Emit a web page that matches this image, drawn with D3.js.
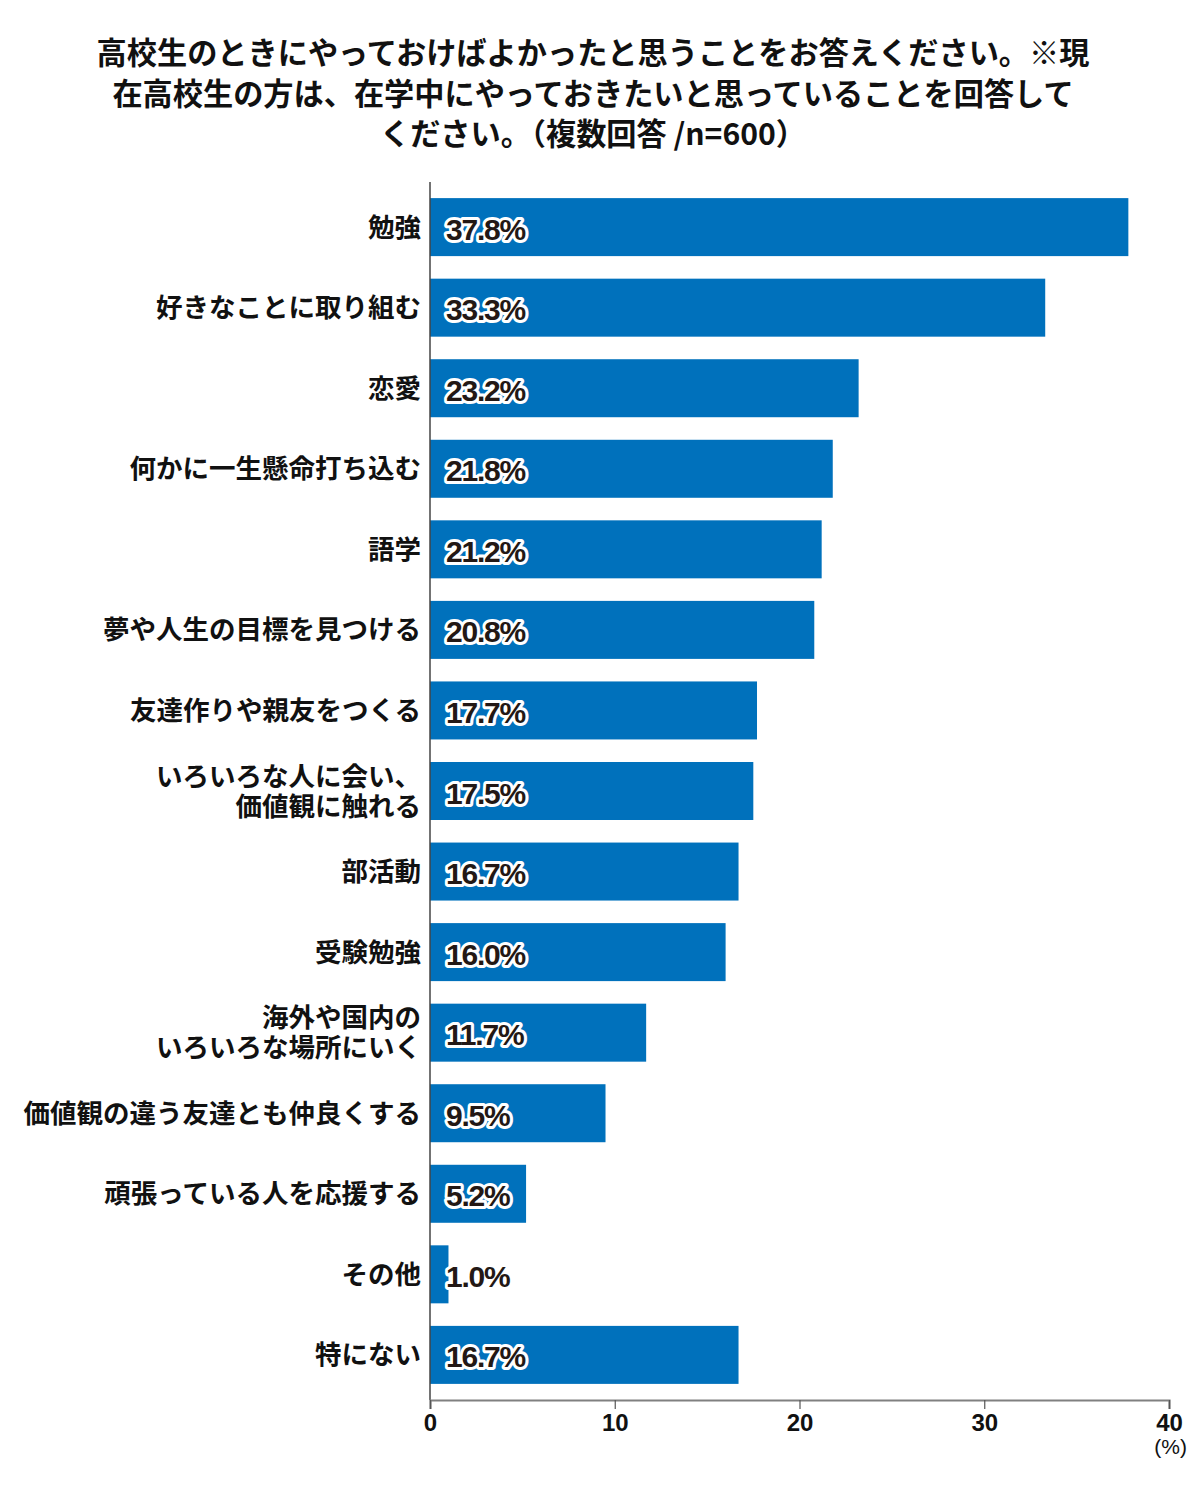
<!DOCTYPE html>
<html><head><meta charset="utf-8">
<script src="https://cdn.jsdelivr.net/npm/d3@7"></script>
<style>
body{margin:0;background:#fff;}
svg{display:block;}
</style></head>
<body>
<svg id="chart" width="1200" height="1494"></svg>
<script>
const titleLines = [
  "高校生のときにやっておけばよかったと思うことをお答えください。※現",
  "在高校生の方は、在学中にやっておきたいと思っていることを回答して",
  "ください。（複数回答 /n=600）"
];
const categories = [
  ["勉強"],
  ["好きなことに取り組む"],
  ["恋愛"],
  ["何かに一生懸命打ち込む"],
  ["語学"],
  ["夢や人生の目標を見つける"],
  ["友達作りや親友をつくる"],
  ["いろいろな人に会い、","価値観に触れる"],
  ["部活動"],
  ["受験勉強"],
  ["海外や国内の","いろいろな場所にいく"],
  ["価値観の違う友達とも仲良くする"],
  ["頑張っている人を応援する"],
  ["その他"],
  ["特にない"]
];
const values = [37.8,33.3,23.2,21.8,21.2,20.8,17.7,17.5,16.7,16.0,11.7,9.5,5.2,1.0,16.7];
const tickValues = [0,10,20,30,40];
const unitLabel = "(%)";

const svg = d3.select("#chart");
const jp = "'Noto Sans CJK JP', 'Noto Sans', sans-serif";
const num = "'Liberation Sans', Arial, sans-serif";

const x = d3.scaleLinear().domain([0,40]).range([430,1169]);
const idx = d3.range(values.length);
const y = d3.scaleBand().domain(idx).range([182,1400]).paddingInner(0.28).paddingOuter(0.2);

// title
svg.append("g").selectAll("text").data(titleLines).join("text")
  .attr("x",593).attr("y",(d,i)=>51+i*40.5)
  .attr("text-anchor","middle").attr("dominant-baseline","central")
  .attr("font-family",jp).attr("font-weight",700).attr("font-size",30.2)
  .attr("fill","#111").text(d=>d);

// bars
svg.append("g").selectAll("rect").data(values).join("rect")
  .attr("x",x(0)).attr("y",(d,i)=>y(i))
  .attr("width",d=>x(d)-x(0)).attr("height",y.bandwidth())
  .attr("fill","#0071bc");

// category labels
const lab = svg.append("g").selectAll("text").data(categories).join("text")
  .attr("text-anchor","end")
  .attr("font-family",jp).attr("font-weight",700).attr("font-size",26.5)
  .attr("fill","#111");
lab.each(function(lines,i){
  const cy = y(i)+y.bandwidth()/2;
  const n = lines.length;
  d3.select(this).selectAll("tspan").data(lines).join("tspan")
    .attr("x",421)
    .attr("y",(d,j)=>cy-2+(j-(n-1)/2)*30)
    .attr("dominant-baseline","central")
    .text(d=>d);
});

// value labels
svg.append("g").selectAll("text").data(values).join("text")
  .attr("x",446).attr("y",(d,i)=>y(i)+y.bandwidth()/2+2)
  .attr("dominant-baseline","central")
  .attr("font-family",num).attr("font-weight",700).attr("font-size",30)
  .attr("letter-spacing",-1.2)
  .attr("fill","#231815").attr("stroke","#fff").attr("stroke-width",6)
  .attr("stroke-linejoin","round").attr("paint-order","stroke")
  .text(d=>d.toFixed(1)+"%");

// left axis line
svg.append("line").attr("x1",x(0)).attr("x2",x(0)).attr("y1",182).attr("y2",1400)
  .attr("stroke","#444").attr("stroke-width",1.5);

// bottom axis
const axis = d3.axisBottom(x).tickValues(tickValues).tickSize(9).tickPadding(5).tickFormat(d3.format("d"));
const ag = svg.append("g").attr("transform","translate(0,1400)").call(axis);
ag.select(".domain").attr("stroke","#808080").attr("stroke-width",2.2);
ag.selectAll(".tick line").attr("stroke","#555").attr("stroke-width",1.2);
ag.selectAll(".tick text").attr("font-family",num).attr("font-weight",700)
  .attr("font-size",24).attr("fill","#111");

svg.append("text").attr("x",1187).attr("y",1446).attr("text-anchor","end")
  .attr("dominant-baseline","central")
  .attr("font-family",num).attr("font-size",21).attr("fill","#111").text(unitLabel);
</script>
</body></html>
